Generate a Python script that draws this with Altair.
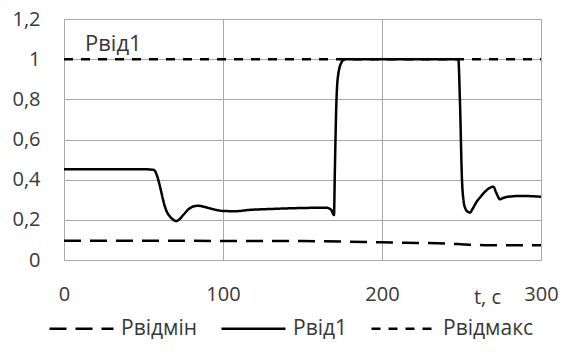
import altair as alt
import pandas as pd

# Time axis (s) and pressure-ratio readings for the three series
t_p1 = [0, 50, 55, 56.6, 58.5, 60.4, 62, 63.5, 65, 66.7, 68.5, 70.4, 72.5, 75, 79, 82,
        84.5, 88, 91.8, 96, 100, 108, 116, 130, 145, 160, 165, 168, 169.8, 170.3, 170.8,
        171.3, 171.8, 172.5, 173.2, 174.6, 176, 177.8, 248, 249, 250.3, 251.2, 252.5, 254,
        255.3, 257, 259.5, 262, 264.8, 267.5, 270, 272, 274.2, 276.5, 279.4, 288, 300]
p1 = [0.452, 0.452, 0.450, 0.448, 0.42, 0.365, 0.31, 0.265, 0.235, 0.216, 0.202, 0.194,
      0.202, 0.224, 0.257, 0.268, 0.27, 0.265, 0.257, 0.249, 0.244, 0.243, 0.249, 0.254,
      0.258, 0.26, 0.26, 0.25, 0.224, 0.42, 0.62, 0.78, 0.87, 0.925, 0.955, 0.985, 0.997,
      1.0, 1.0, 0.797, 0.4, 0.3, 0.255, 0.24, 0.236, 0.255, 0.29, 0.315, 0.34, 0.358, 0.365,
      0.332, 0.302, 0.31, 0.315, 0.319, 0.315]

t_pmin = [0, 100, 150, 175, 200, 215, 240, 255, 265, 300]
pmin = [0.096, 0.095, 0.094, 0.092, 0.088, 0.086, 0.082, 0.076, 0.074, 0.073]

t_pmax = [0, 300]
pmax = [1.0, 1.0]

series_names = ["Рвідмін", "Рвід1", "Рвідмакс"]
series_dash = [[17, 9], [1, 0], [9, 8]]

x_ticks = [0, 100, 200, 300]
y_ticks = [0, 0.2, 0.4, 0.6, 0.8, 1.0, 1.2]

rows = []
for name, ts, ps in [("Рвідмін", t_pmin, pmin), ("Рвід1", t_p1, p1), ("Рвідмакс", t_pmax, pmax)]:
    for t, p in zip(ts, ps):
        rows.append({"t": t, "p": p, "series": name})
df = pd.DataFrame(rows)

FONT = "Open Sans"
TEXT = "#383838"
GRID = "#a9a9a9"
FS = 20

x_enc = alt.X(
    "t:Q",
    scale=alt.Scale(domain=[0, 300], nice=False, zero=False),
    axis=alt.Axis(
        values=x_ticks, grid=True, gridColor=GRID, gridWidth=1, domain=False, ticks=False,
        labelPadding=24, labelFont=FONT, labelFontSize=FS, labelColor=TEXT,
        labelFlush=False, labelOverlap=False,
        title="t, c", titleX=423, titleY=37, titleAlign="center", titleBaseline="middle",
        titleFont=FONT, titleFontSize=FS, titleFontWeight="normal", titleColor=TEXT,
    ),
)
y_enc = alt.Y(
    "p:Q",
    scale=alt.Scale(domain=[0, 1.2], nice=False),
    axis=alt.Axis(
        values=y_ticks, grid=True, gridColor=GRID, gridWidth=1, domain=False, ticks=False,
        labelPadding=24, labelFont=FONT, labelFontSize=FS, labelColor=TEXT,
        labelExpr="replace(toString(datum.value), '.', ',')",
        labelFlush=False, labelOverlap=False, title=None,
    ),
)

lines = alt.Chart(df).mark_line(strokeWidth=2.5, color="black", interpolate="monotone").encode(
    x=x_enc,
    y=y_enc,
    strokeDash=alt.StrokeDash(
        "series:N",
        scale=alt.Scale(domain=series_names, range=series_dash),
        sort=series_names,
        legend=alt.Legend(
            title=None, orient="none", legendX=-16, legendY=276, direction="horizontal",
            symbolType="stroke", symbolSize=4096, symbolStrokeWidth=2.5,
            symbolStrokeColor="black", labelFont=FONT, labelFontSize=21, labelColor=TEXT,
            labelOffset=6, columnPadding=18, padding=0,
        ),
    ),
    order=alt.Order("series:N"),
)

label = alt.Chart(pd.DataFrame({"txt": ["Рвід1"]})).mark_text(
    align="left", baseline="middle", font=FONT, fontSize=22, color=TEXT
).encode(x=alt.value(21), y=alt.value(25), text="txt:N")

chart = (
    alt.layer(lines, label)
    .properties(
        width=477, height=241,
        autosize=alt.AutoSizeParams(type="none"),
        padding={"left": 64, "top": 19, "right": 22, "bottom": 96},
    )
    .configure_view(stroke=None)
    .configure(background="white")
)

chart.save("out.html", embed_options={"renderer": "svg", "actions": False})
